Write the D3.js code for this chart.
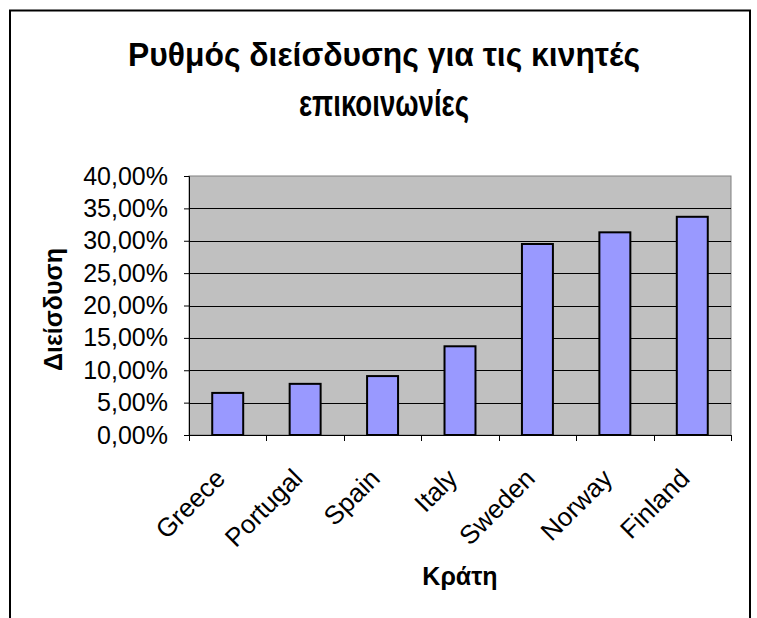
<!DOCTYPE html>
<html>
<head>
<meta charset="utf-8">
<script src="https://cdn.jsdelivr.net/npm/d3@7.9.0/dist/d3.min.js"></script>
<style>
  body { margin: 0; background: #fff; }
  svg { display: block; font-family: "Liberation Sans", Arial, sans-serif; }
</style>
</head>
<body>
<svg id="chart" width="757" height="618"></svg>
<script>
// data
const countries = ['Greece', 'Portugal', 'Spain', 'Italy', 'Sweden', 'Norway', 'Finland'];
const penetration = [0.065, 0.079, 0.091, 0.137, 0.295, 0.313, 0.337];
const yTicks = [0, 0.05, 0.10, 0.15, 0.20, 0.25, 0.30, 0.35, 0.40];

const svg = d3.select('#chart');

// outer chart frame (bottom edge runs off the picture)
svg.append('rect')
  .attr('x', 10).attr('y', 10.5)
  .attr('width', 740).attr('height', 640)
  .attr('fill', 'none').attr('stroke', '#000').attr('stroke-width', 2);

const plot = { left: 189, right: 731, top: 176, bottom: 435 };

const x = d3.scaleBand()
  .domain(countries)
  .range([plot.left, plot.right])
  .paddingInner(0.6)
  .paddingOuter(0.3);

const y = d3.scaleLinear()
  .domain([0, 0.4])
  .range([plot.bottom, plot.top]);

const fmt = d => d3.format('.2f')(d * 100).replace('.', ',') + '%';

// plot background
svg.append('rect')
  .attr('x', plot.left).attr('y', plot.top)
  .attr('width', plot.right - plot.left).attr('height', plot.bottom - plot.top)
  .attr('fill', '#c0c0c0').attr('stroke', '#808080');

// gridlines
svg.append('g').selectAll('line')
  .data(yTicks.filter(t => t > 0 && t < 0.4))
  .join('line')
  .attr('x1', plot.left).attr('x2', plot.right)
  .attr('y1', d => Math.round(y(d)) + 0.5).attr('y2', d => Math.round(y(d)) + 0.5)
  .attr('stroke', '#000');

// bars
svg.append('g').selectAll('rect')
  .data(penetration)
  .join('rect')
  .attr('x', (d, i) => x(countries[i]))
  .attr('y', d => y(d))
  .attr('width', x.bandwidth())
  .attr('height', d => y(0) - y(d))
  .attr('fill', '#9999ff')
  .attr('stroke', '#000')
  .attr('stroke-width', 2);

// y axis
const yAxis = svg.append('g')
  .attr('transform', `translate(${plot.left},0)`)
  .call(d3.axisLeft(y).tickValues(yTicks).tickFormat(fmt).tickSize(5).tickPadding(16));
yAxis.select('.domain').attr('stroke', '#000');
yAxis.selectAll('text').attr('font-size', 25).attr('fill', '#000');

// x axis: ticks at category boundaries
const step = x.step();
const bounds = d3.range(countries.length + 1).map(i => plot.left + i * step);
svg.append('line')
  .attr('x1', plot.left).attr('x2', plot.right)
  .attr('y1', plot.bottom + 0.5).attr('y2', plot.bottom + 0.5)
  .attr('stroke', '#000');
svg.append('g').selectAll('line')
  .data(bounds)
  .join('line')
  .attr('x1', d => Math.round(d) + 0.5).attr('x2', d => Math.round(d) + 0.5)
  .attr('y1', plot.bottom).attr('y2', plot.bottom + 6)
  .attr('stroke', '#000');

svg.append('g').selectAll('text')
  .data(countries)
  .join('text')
  .attr('transform', d => `translate(${x(d) + x.bandwidth() / 2 - 1},${plot.bottom + 45}) rotate(-45)`)
  .attr('text-anchor', 'end')
  .attr('font-size', 26)
  .text(d => d);

// titles (the original font is narrower, so squeeze to the measured widths)
const title = svg.append('text')
  .attr('text-anchor', 'middle')
  .attr('font-size', 34)
  .attr('font-weight', 'bold');
title.append('tspan').attr('x', 384).attr('y', 66)
  .attr('textLength', 512).attr('lengthAdjust', 'spacingAndGlyphs')
  .text('Ρυθμός διείσδυσης για τις κινητές');
title.append('tspan').attr('x', 384).attr('y', 116)
  .attr('font-size', 37)
  .attr('textLength', 170).attr('lengthAdjust', 'spacingAndGlyphs')
  .text('επικοινωνίες');

svg.append('text')
  .attr('transform', `translate(62,${(plot.top + plot.bottom) / 2 + 4}) rotate(-90)`)
  .attr('text-anchor', 'middle')
  .attr('font-size', 25)
  .attr('font-weight', 'bold')
  .text('Διείσδυση');

svg.append('text')
  .attr('x', (plot.left + plot.right) / 2)
  .attr('y', 585)
  .attr('text-anchor', 'middle')
  .attr('font-size', 25)
  .attr('font-weight', 'bold')
  .text('Κράτη');
</script>
</body>
</html>
